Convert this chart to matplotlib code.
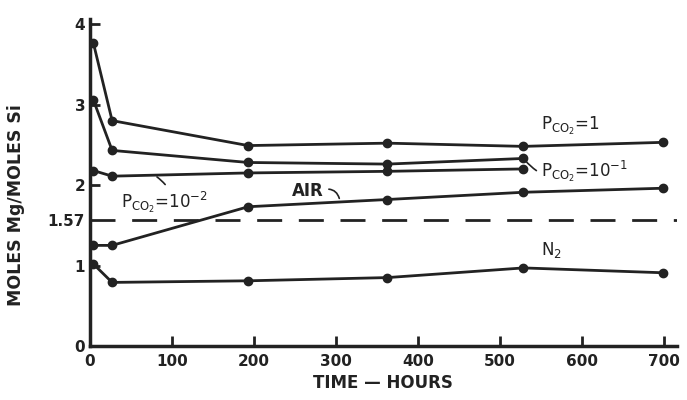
import matplotlib
matplotlib.use("Agg")
import matplotlib.pyplot as plt

# time (hours) and Mg/Si ratios
hours = [4, 27, 193, 363, 529, 699]
hours_short = [4, 27, 193, 363, 529]

pco2_1 = [3.77, 2.80, 2.49, 2.52, 2.48, 2.53]
pco2_01 = [3.06, 2.43, 2.28, 2.26, 2.33]
pco2_001 = [2.18, 2.11, 2.15, 2.17, 2.20]
air = [1.25, 1.25, 1.73, 1.82, 1.91, 1.96]
n2 = [1.02, 0.79, 0.81, 0.85, 0.97, 0.91]

ref_level = 1.57
y_ticks = [0, 1, 1.57, 2, 3, 4]
y_labels = ["0", "1", "1.57", "2", "3", "4"]
x_ticks = [0, 100, 200, 300, 400, 500, 600, 700]

ink = "#222222"
plt.rcParams['font.family'] = ['DejaVu Sans']
plt.rcParams['mathtext.fontset'] = 'dejavusans'

fig = plt.figure(figsize=(6.87, 4.0), dpi=100)
ax = fig.add_axes([0.131, 0.135, 0.854, 0.817])

line_kw = dict(color=ink, lw=2, marker='o', ms=6)
ax.plot(hours, pco2_1, **line_kw)
ax.plot(hours_short, pco2_01, **line_kw)
ax.plot(hours_short, pco2_001, **line_kw)
ax.plot(hours, air, **line_kw)
ax.plot(hours, n2, **line_kw)

ax.axhline(ref_level, color=ink, lw=2, dashes=(9, 6))

ax.set_xlim(0, 716)
ax.set_ylim(0, 4.06)
ax.set_xticks(x_ticks)
ax.set_yticks(y_ticks)
ax.set_yticklabels(y_labels)
ax.tick_params(direction='in', length=7, width=2, colors=ink, labelsize=11)
ax.tick_params(axis='x', pad=6)
for lab in ax.get_xticklabels() + ax.get_yticklabels():
    lab.set_fontweight('bold')
ax.yaxis.get_major_ticks()[2].tick1line.set_visible(False)

for s in ['top', 'right']:
    ax.spines[s].set_visible(False)
for s in ['left', 'bottom']:
    ax.spines[s].set_linewidth(2.5)
    ax.spines[s].set_color(ink)

ax.set_xlabel("TIME — HOURS", fontsize=12, fontweight='bold', color=ink, labelpad=3)
ax.set_ylabel("MOLES Mg/MOLES Si", fontsize=12.5, fontweight='bold', color=ink)
ax.yaxis.set_label_coords(-0.11, 0.43)

txt = dict(fontsize=12, color=ink)
ax.text(551, 2.68, r'$\mathregular{P_{CO_2}}$=1', **txt)
ax.annotate(r'$\mathregular{P_{CO_2}}$=10$^{-1}$', xy=(529, 2.33), xytext=(551, 2.10),
            arrowprops=dict(arrowstyle='-', color=ink, lw=1.2,
                            connectionstyle='arc3,rad=-0.4'), **txt)
ax.annotate(r'$\mathregular{P_{CO_2}}$=10$^{-2}$', xy=(79, 2.12), xytext=(38, 1.72),
            arrowprops=dict(arrowstyle='-', color=ink, lw=1.2, relpos=(0.55, 1.0),
                            connectionstyle='arc3,rad=0.1'), **txt)
ax.annotate('AIR', xy=(305, 1.80), xytext=(246, 1.86),
            arrowprops=dict(arrowstyle='-', color=ink, lw=1.2, relpos=(1.0, 0.6),
                            connectionstyle='arc3,rad=-0.5'),
            fontsize=12, fontweight='bold', color=ink)
ax.text(551, 1.13, r'$\mathregular{N_2}$', **txt)

fig.savefig("out.png", dpi=100)
